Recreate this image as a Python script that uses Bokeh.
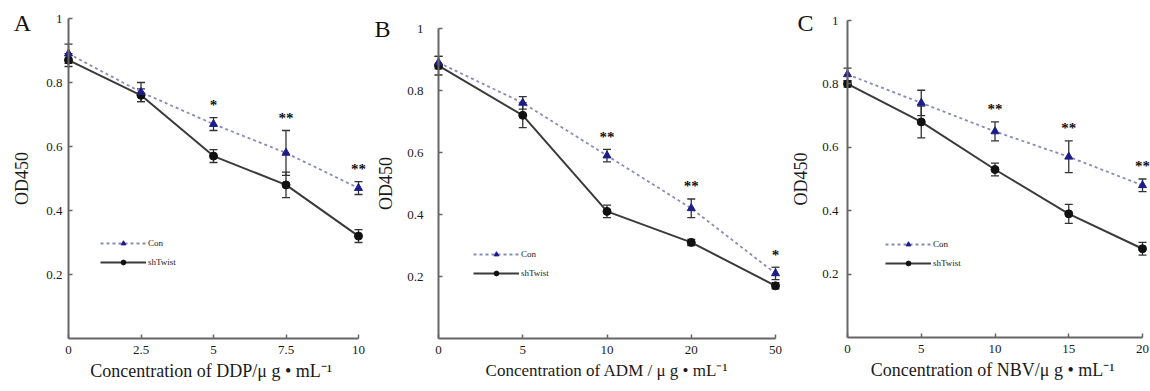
from bokeh.plotting import figure
from bokeh.layouts import row
from bokeh.models import (ColumnDataSource, Whisker, Legend, LegendItem, Label,
                          FixedTicker, NumeralTickFormatter, Range1d, LinearAxis, TeeHead)
from bokeh.embed import file_html
from bokeh.resources import INLINE
from bokeh.core.properties import value

FONT = "Liberation Serif"

# ---- data ----
a_doses = ["0", "2.5", "5", "7.5", "10"]
a_con = [0.89, 0.77, 0.67, 0.58, 0.47]
a_con_err = [0.03, 0.03, 0.02, 0.07, 0.02]
a_sh = [0.87, 0.76, 0.57, 0.48, 0.32]
a_sh_err = [0.02, 0.02, 0.02, 0.04, 0.02]
a_stars = ["", "", "*", "**", "**"]

b_doses = ["0", "5", "10", "20", "50"]
b_con = [0.89, 0.76, 0.59, 0.42, 0.21]
b_con_err = [0.02, 0.02, 0.02, 0.03, 0.02]
b_sh = [0.88, 0.72, 0.41, 0.31, 0.17]
b_sh_err = [0.03, 0.04, 0.02, 0.01, 0.01]
b_stars = ["", "", "**", "**", "*"]

c_doses = ["0", "5", "10", "15", "20"]
c_con = [0.83, 0.74, 0.65, 0.57, 0.48]
c_con_err = [0.02, 0.04, 0.03, 0.05, 0.02]
c_sh = [0.80, 0.68, 0.53, 0.39, 0.28]
c_sh_err = [0.01, 0.05, 0.02, 0.03, 0.02]
c_stars = ["", "", "**", "**", "**"]

y_ticks = [0.2, 0.4, 0.6, 0.8, 1.0]
series_names = ["Con", "shTwist"]

CON_LINE = "#8a8ab8"
CON_MARK = "#1c1c8a"
SH_LINE = "#3a3a3a"
SH_MARK = "#111111"
ERR = "#333333"
AXIS = "#666666"
TXT = "#1a1a1a"

H = 391


def panel(letter, doses, con, con_err, sh, sh_err, stars, xlabel,
          W, x0, xn, y1, y0, ystand, ylabstand, xtitle_size, leg_loc, letter_xy):
    """x0/xn: pixel positions of first/last dose; y1/y0: pixel rows of OD=1 / OD=0."""
    idx = list(range(len(doses)))
    n = idx[-1]
    kx = (xn - x0) / n
    ky = (y0 - y1) / 1.0
    p = figure(width=W, height=H,
               x_range=Range1d(-x0 / kx, (W - x0) / kx),
               y_range=Range1d(-(H - y0) / ky, 1 + y1 / ky),
               output_backend="svg", toolbar_location=None,
               x_axis_location=None, y_axis_location=None,
               min_border=0, min_border_left=0, min_border_right=0,
               min_border_top=0, min_border_bottom=0)
    p.grid.visible = False
    p.outline_line_color = None
    p.background_fill_color = "white"
    p.border_fill_color = "white"

    xa = LinearAxis(fixed_location=0, bounds=(0, n),
                    ticker=FixedTicker(ticks=idx),
                    major_label_overrides={i: d for i, d in zip(idx, doses)},
                    axis_label=xlabel)
    ya = LinearAxis(fixed_location=0, bounds=(0, 1),
                    ticker=FixedTicker(ticks=y_ticks),
                    formatter=NumeralTickFormatter(format="0.[0]"),
                    axis_label="OD450")
    for ax in (xa, ya):
        ax.axis_line_color = AXIS
        ax.axis_line_width = 2
        ax.major_tick_in = 4
        ax.major_tick_out = 0
        ax.major_tick_line_color = AXIS
        ax.major_tick_line_width = 1.5
        ax.minor_tick_line_color = None
        ax.major_label_text_font = FONT
        ax.major_label_text_font_size = "13px"
        ax.major_label_text_color = TXT
        ax.axis_label_text_font = FONT
        ax.axis_label_text_font_style = "normal"
        ax.axis_label_text_color = TXT
    xa.major_label_standoff = 7
    xa.axis_label_text_font_size = xtitle_size
    xa.axis_label_standoff = 4
    ya.major_label_standoff = ystand
    ya.axis_label_text_font_size = "18px"
    ya.axis_label_standoff = ylabstand
    p.add_layout(xa, "below")
    p.add_layout(ya, "left")

    src = ColumnDataSource(dict(
        x=idx, con=con, sh=sh,
        con_lo=[v - e for v, e in zip(con, con_err)],
        con_hi=[v + e for v, e in zip(con, con_err)],
        sh_lo=[v - e for v, e in zip(sh, sh_err)],
        sh_hi=[v + e for v, e in zip(sh, sh_err)],
        stars=stars,
        sy=[v + e + 0.015 for v, e in zip(con, con_err)],
    ))

    sh_line = p.line("x", "sh", source=src, line_color=SH_LINE, line_width=2)
    con_line = p.line("x", "con", source=src, line_color=CON_LINE, line_width=1.8,
                      line_dash="3 3")
    for lo, hi in (("con_lo", "con_hi"), ("sh_lo", "sh_hi")):
        w = Whisker(base="x", lower=lo, upper=hi, source=src,
                    line_color=ERR, line_width=1.3,
                    upper_head=TeeHead(size=8, line_color=ERR, line_width=1.3),
                    lower_head=TeeHead(size=8, line_color=ERR, line_width=1.3))
        p.add_layout(w)
    sh_pts = p.scatter("x", "sh", source=src, marker="circle", size=8,
                       fill_color=SH_MARK, line_color=SH_MARK)
    con_pts = p.scatter("x", "con", source=src, marker="triangle", size=8,
                        fill_color=CON_MARK, line_color=CON_MARK)
    p.text("x", "sy", text="stars", source=src, text_align="center",
           text_baseline="bottom", text_font=value(FONT), text_font_size="15px",
           text_font_style="bold", text_color="#111111")

    leg = Legend(items=[LegendItem(label=series_names[0], renderers=[con_line, con_pts]),
                        LegendItem(label=series_names[1], renderers=[sh_line, sh_pts])],
                 location=leg_loc, orientation="vertical",
                 label_text_font=FONT, label_text_font_size="9px",
                 label_text_color=TXT,
                 glyph_width=46, glyph_height=12, spacing=7,
                 padding=0, margin=0, label_standoff=2,
                 border_line_alpha=0, background_fill_alpha=0)
    p.add_layout(leg)

    p.add_layout(Label(x=letter_xy[0], y=letter_xy[1], x_units="screen", y_units="screen",
                       text=letter, text_font=FONT, text_font_size="24px",
                       text_align="center", text_baseline="middle", text_color="#111111"))
    return p


pa = panel("A", a_doses, a_con, a_con_err, a_sh, a_sh_err, a_stars,
           "Concentration of  DDP/\u03bc g \u2022 mL\u207b\u00b9",
           372, 68, 358, 18, 338, 6, 11, "18px", (100, 123), (22, 369))
pb = panel("B", b_doses, b_con, b_con_err, b_sh, b_sh_err, b_stars,
           "Concentration of ADM / \u03bc g \u2022 mL\u207b\u00b9",
           418, 66, 403, 28, 338, 15, 8, "17px", (101, 112), (10, 363))
pc = panel("C", c_doses, c_con, c_con_err, c_sh, c_sh_err, c_stars,
           "Concentration of  NBV/\u03bc g \u2022 mL\u207b\u00b9",
           360, 57, 352, 20, 337, 9, 8, "18px", (95, 122), (15, 369))

layout = row(pa, pb, pc)
open("out.html", "w").write(file_html(layout, INLINE))
